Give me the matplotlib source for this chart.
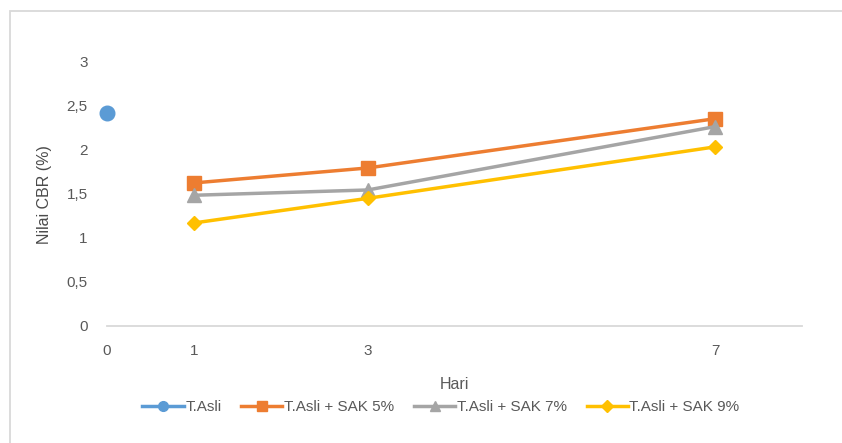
import matplotlib
matplotlib.use("Agg")
import matplotlib.pyplot as plt
from matplotlib.lines import Line2D
from matplotlib.patches import Rectangle

# Data
days_base = [0]
cbr_base = [2.42]
days = [1, 3, 7]
cbr_sak5 = [1.62, 1.79, 2.35]
cbr_sak7 = [1.48, 1.54, 2.26]
cbr_sak9 = [1.165, 1.445, 2.03]
series_labels = ["T.Asli", "T.Asli + SAK 5%", "T.Asli + SAK 7%", "T.Asli + SAK 9%"]
x_ticks = [0, 1, 3, 7]
y_ticks = [0, 0.5, 1, 1.5, 2, 2.5, 3]
y_tick_labels = ["0", "0,5", "1", "1,5", "2", "2,5", "3"]

colors = ["#5B9BD5", "#ED7D31", "#A5A5A5", "#FFC000"]
txt = "#595959"
font = ["Liberation Sans Narrow", "Liberation Sans", "DejaVu Sans"]
lw = 2.5

W, H = 842, 443
fig = plt.figure(figsize=(W / 100, H / 100), dpi=100)

# chart area frame (top and left edges visible)
fig.add_artist(Rectangle((10 / W, -0.05), 1.1, 1.05 - 11 / H, transform=fig.transFigure,
                         fill=False, edgecolor="#D9D9D9", linewidth=1.3))

ax = fig.add_axes([107 / W, (H - 325.5) / H, 695 / W, 264 / H])
ax.set_xlim(0, 8)
ax.set_ylim(0, 3)

ax.plot(days_base, cbr_base, color=colors[0], marker="o", markersize=10.5, linewidth=lw,
        label=series_labels[0], clip_on=False, zorder=3)
ax.plot(days, cbr_sak5, color=colors[1], marker="s", markersize=10, linewidth=lw,
        label=series_labels[1], clip_on=False, zorder=3)
ax.plot(days, cbr_sak7, color=colors[2], marker="^", markersize=10, linewidth=lw,
        label=series_labels[2], clip_on=False, zorder=3)
ax.plot(days, cbr_sak9, color=colors[3], marker="D", markersize=7.5, linewidth=lw,
        label=series_labels[3], clip_on=False, zorder=3)

for s in ["top", "right", "left"]:
    ax.spines[s].set_visible(False)
ax.spines["bottom"].set_color("#D9D9D9")
ax.spines["bottom"].set_linewidth(1.3)

ax.set_xticks(x_ticks)
ax.set_xticklabels([str(v) for v in x_ticks])
ax.set_yticks(y_ticks)
ax.set_yticklabels(y_tick_labels)
ax.tick_params(axis="both", length=0, colors=txt, labelsize=11)
ax.tick_params(axis="y", pad=14)
ax.tick_params(axis="x", pad=13)
for lab in ax.get_xticklabels() + ax.get_yticklabels():
    lab.set_family(font)

ax.set_xlabel("Hari", color=txt, fontsize=11.5, family=font, labelpad=14)
fig.text(44 / W, 1 - 195 / H, "Nilai CBR (%)", rotation=90, ha="center", va="center",
         color="#4a4a4a", fontsize=11.5, fontweight="medium",
         family=["Liberation Sans", "DejaVu Sans"])

handles = [Line2D([0], [0], color=c, marker=m, markersize=ms, linewidth=lw)
           for c, m, ms in zip(colors, ["o", "s", "^", "D"], [7, 7, 7, 6])]
leg = fig.legend(handles, series_labels, loc="center", bbox_to_anchor=(441 / W, 1 - 407 / H),
                 ncol=4, frameon=False, handlelength=2.7, handletextpad=0.1,
                 columnspacing=1.3, prop={"family": font, "size": 11})
for t in leg.get_texts():
    t.set_color(txt)

fig.savefig("out.png", dpi=100, facecolor="white")
